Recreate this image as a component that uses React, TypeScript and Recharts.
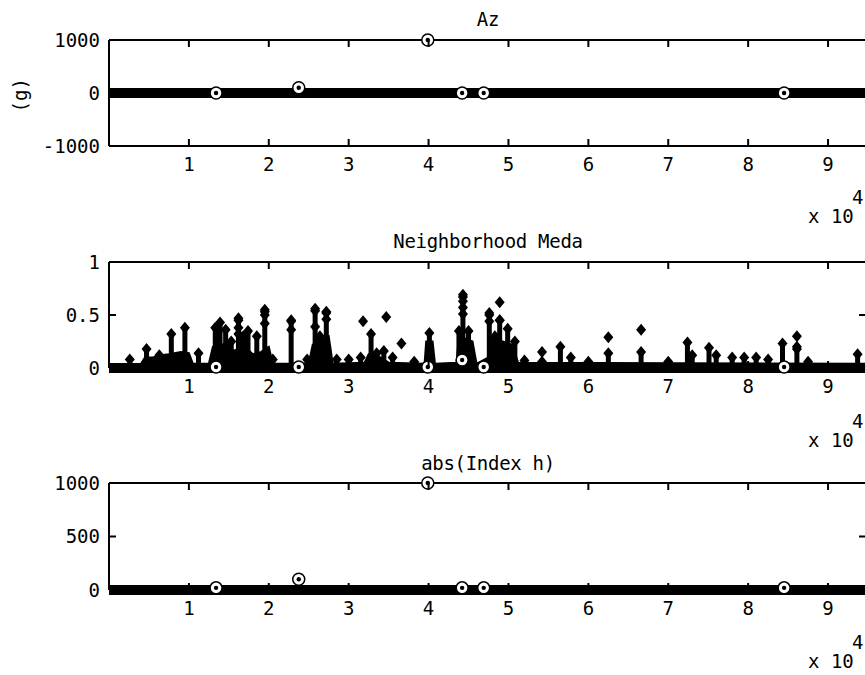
import React from 'react'
import { ComposedChart, Line, Area, Scatter, XAxis, YAxis } from 'recharts'

const X_MAX = 94750
const X_TICKS = [10000, 20000, 30000, 40000, 50000, 60000, 70000, 80000, 90000]

// bulk of samples sitting on zero (drawn as a thick band)
const bandX = [0, 94700]
const bandY = [0, 0]

// flagged events, marked with rings
const eventX = [13400, 23750, 39900, 44200, 46900, 84500]
const azEvent = [0, 100, 1000, 0, 0, 0]
const medaEvent = [0.01, 0.01, 0.01, 0.075, 0.01, 0.01]
const absEvent = [20, 100, 1000, 20, 20, 20]

// Neighborhood Meda: low mass envelope
const massX = [0, 4000, 4500, 5500, 6500, 7500, 9000, 10000, 10500, 12500, 13000, 15000, 15500, 17000, 18000, 19000, 20000, 20500, 25000, 25500, 27500, 28000, 32000, 32500, 34000, 35000, 39500, 39700, 40500, 40800, 43500, 43800, 45500, 46000, 47500, 48000, 50500, 51200, 94700]
const massY = [0.03, 0.04, 0.1, 0.1, 0.12, 0.13, 0.15, 0.14, 0.04, 0.04, 0.2, 0.24, 0.16, 0.2, 0.13, 0.15, 0.2, 0.04, 0.04, 0.22, 0.3, 0.04, 0.05, 0.13, 0.1, 0.05, 0.04, 0.25, 0.25, 0.04, 0.05, 0.3, 0.25, 0.04, 0.1, 0.28, 0.22, 0.05, 0.04]

// Neighborhood Meda: spikes (stems)
const stemX = [2600, 4700, 6300, 7800, 9500, 11200, 13300, 13900, 14600, 15300, 16200, 16800, 17400, 18500, 19500, 20500, 22800, 24800, 25800, 26400, 27200, 28500, 30000, 31500, 32800, 33500, 34400, 35500, 38200, 40100, 43800, 44300, 45000, 47600, 48300, 48900, 49900, 50800, 52000, 54200, 56500, 57800, 60000, 62500, 66600, 70000, 72400, 73000, 75100, 76000, 78000, 79500, 81000, 82500, 84300, 86100, 87500, 93700]
const stemTop = [0.08, 0.18, 0.12, 0.32, 0.38, 0.14, 0.38, 0.43, 0.36, 0.25, 0.45, 0.3, 0.35, 0.3, 0.53, 0.08, 0.44, 0.08, 0.54, 0.3, 0.52, 0.08, 0.08, 0.1, 0.32, 0.14, 0.16, 0.1, 0.06, 0.33, 0.35, 0.67, 0.35, 0.5, 0.3, 0.45, 0.37, 0.25, 0.07, 0.06, 0.2, 0.1, 0.06, 0.14, 0.15, 0.06, 0.24, 0.12, 0.19, 0.12, 0.1, 0.1, 0.1, 0.08, 0.23, 0.2, 0.06, 0.13]

// Neighborhood Meda: diamond markers
const diamondX = [16200, 16200, 16200, 19500, 19500, 19500, 22800, 22800, 25800, 25800, 27200, 27200, 31800, 34700, 36600, 44300, 44300, 44300, 44300, 47600, 47600, 48900, 48900, 54200, 62500, 66600, 86100, 86100]
const diamondY = [0.47, 0.38, 0.32, 0.55, 0.5, 0.42, 0.45, 0.36, 0.56, 0.39, 0.53, 0.46, 0.44, 0.48, 0.23, 0.69, 0.63, 0.57, 0.51, 0.52, 0.44, 0.62, 0.45, 0.15, 0.29, 0.36, 0.3, 0.18]

const rows = (xs: number[], ys: (number | null)[]) => xs.map((x, i) => ({ x, y: ys[i] }))
const bandRows = rows(bandX, bandY)
const massRows = rows(massX, massY)
const stemRows = stemX.flatMap((x, i) => [{ x, y: 0 }, { x, y: stemTop[i] }, { x, y: null }])
const diamondRows = rows(diamondX, diamondY)

// frame tick positions: top/bottom for x ticks, left/right for y ticks
const topTicks = (yMax: number) => X_TICKS.map((x) => ({ x, y: yMax }))
const bottomTicks = (yMin: number) => X_TICKS.map((x) => ({ x, y: yMin }))
const leftTicks = (ys: number[]) => ys.map((y) => ({ x: 0, y }))
const rightTicks = (ys: number[]) => ys.map((y) => ({ x: X_MAX, y }))

const FONT = '"DejaVu Sans Mono", monospace'
const tickStyle = { fontFamily: FONT, fontSize: 19, fill: '#000' }

const Diamond = (p: any) => {
  const { cx, cy } = p
  if (cx == null || cy == null) return null
  return <path d={`M${cx},${cy - 6}L${cx + 5},${cy}L${cx},${cy + 6}L${cx - 5},${cy}Z`} fill="#000" />
}

// diamond only on the top of each stem
const StemTop = (p: any) => {
  if (p.value == null || p.value <= 0) return <g key={p.index} />
  return <g key={p.index}><Diamond cx={p.cx} cy={p.cy} /></g>
}

const Ring = (p: any) => {
  const { cx, cy } = p
  if (cx == null || cy == null) return null
  return (
    <g>
      <circle cx={cx} cy={cy} r={6} fill="#fff" stroke="#000" strokeWidth={1.5} />
      <circle cx={cx} cy={cy} r={2.2} fill="#000" />
    </g>
  )
}

// inward tick marks as small filled rects
const TICK = 7
const TickDown = (p: any) => (p.cx == null ? null : <rect x={p.cx - 1} y={p.cy} width={2} height={TICK} fill="#000" />)
const TickUp = (p: any) => (p.cx == null ? null : <rect x={p.cx - 1} y={p.cy - TICK} width={2} height={TICK} fill="#000" />)
const TickRight = (p: any) => (p.cx == null ? null : <rect x={p.cx} y={p.cy - 1} width={TICK} height={2} fill="#000" />)
const TickLeft = (p: any) => (p.cx == null ? null : <rect x={p.cx - TICK} y={p.cy - 1} width={TICK} height={2} fill="#000" />)

const frame = { stroke: '#000', strokeWidth: 2 }
const noLabel = () => ''

function Panel({ top, plotH, yDomain, yTicks, children, data }: any) {
  const xCommon = { dataKey: 'x', type: 'number' as const, domain: [0, X_MAX], ticks: X_TICKS, interval: 0 }
  const yCommon = { type: 'number' as const, domain: yDomain, ticks: yTicks, interval: 0 }
  return (
    <div style={{ position: 'absolute', left: 0, top: top - 11 }}>
      <ComposedChart width={880} height={plotH + 51} data={data} margin={{ top: 10, right: 13, left: 0, bottom: 0 }}>
        <XAxis xAxisId="top" orientation="top" {...xCommon} height={1} tickLine={false} tickFormatter={noLabel} axisLine={frame} />
        <YAxis yAxisId="right" orientation="right" {...yCommon} width={1} tickLine={false} tickFormatter={noLabel} axisLine={frame} />
        <XAxis {...xCommon} tickFormatter={(v) => String(v / 10000)} height={40}
          axisLine={frame} tickLine={false} tickSize={0} tickMargin={12} tick={tickStyle} />
        <YAxis {...yCommon} width={109}
          axisLine={frame} tickLine={false} tickSize={0} tickMargin={9} tick={tickStyle} />
        {/* invisible series so the frame axes get drawn */}
        <Line xAxisId="top" yAxisId="right" data={bandRows} dataKey="y" stroke="none" dot={false} activeDot={false} isAnimationActive={false} />
        {children}
        <Scatter data={topTicks(yDomain[1])} dataKey="y" shape={TickDown} isAnimationActive={false} />
        <Scatter data={bottomTicks(yDomain[0])} dataKey="y" shape={TickUp} isAnimationActive={false} />
        <Scatter data={leftTicks(yTicks)} dataKey="y" shape={TickRight} isAnimationActive={false} />
        <Scatter data={rightTicks(yTicks)} dataKey="y" shape={TickLeft} isAnimationActive={false} />
      </ComposedChart>
    </div>
  )
}

const textBase: React.CSSProperties = { position: 'absolute', fontFamily: FONT, fontSize: 19, lineHeight: '19px', color: '#000', whiteSpace: 'nowrap' }

function Title({ y, text }: { y: number; text: string }) {
  return <div style={{ ...textBase, left: 109, width: 758, top: y - 10, textAlign: 'center', letterSpacing: -0.3 }}>{text}</div>
}

function Exponent({ y }: { y: number }) {
  return (
    <>
      <div style={{ ...textBase, left: 808, top: y - 10 }}>x 10</div>
      <div style={{ ...textBase, left: 852, top: y - 29 }}>4</div>
    </>
  )
}

export default function App() {
  return (
    <div style={{ position: 'absolute', left: 0, top: 0, width: 865, height: 675, overflow: 'hidden', background: '#fff' }}>
      <Title y={20} text="Az" />
      <div style={{ ...textBase, left: 3, top: 86, width: 34, textAlign: 'center', transform: 'rotate(-90deg)' }}>(g)</div>
      <Panel top={40} plotH={106} yDomain={[-1000, 1000]} yTicks={[-1000, 0, 1000]}>
        <Line data={bandRows} dataKey="y" stroke="#000" strokeWidth={10} dot={false} isAnimationActive={false} />
        <Scatter data={rows(eventX, azEvent)} dataKey="y" shape={Ring} isAnimationActive={false} />
      </Panel>
      <Exponent y={217} />

      <Title y={242} text="Neighborhood Meda" />
      <Panel top={262} plotH={106} yDomain={[0, 1]} yTicks={[0, 0.5, 1]} data={massRows}>
        <Area dataKey="y" type="linear" fill="#000" fillOpacity={1} stroke="#000" strokeWidth={2} isAnimationActive={false} />
        <Line data={bandRows} dataKey="y" stroke="#000" strokeWidth={10} dot={false} isAnimationActive={false} />
        <Line data={stemRows} dataKey="y" stroke="#000" strokeWidth={5} dot={StemTop} connectNulls={false} isAnimationActive={false} />
        <Scatter data={diamondRows} dataKey="y" shape={Diamond} isAnimationActive={false} />
        <Scatter data={rows(eventX, medaEvent)} dataKey="y" shape={Ring} isAnimationActive={false} />
      </Panel>
      <Exponent y={441} />

      <Title y={464} text="abs(Index h)" />
      <Panel top={483} plotH={107} yDomain={[0, 1000]} yTicks={[0, 500, 1000]}>
        <Line data={bandRows} dataKey="y" stroke="#000" strokeWidth={10} dot={false} isAnimationActive={false} />
        <Scatter data={rows(eventX, absEvent)} dataKey="y" shape={Ring} isAnimationActive={false} />
      </Panel>
      <Exponent y={662} />
    </div>
  )
}
